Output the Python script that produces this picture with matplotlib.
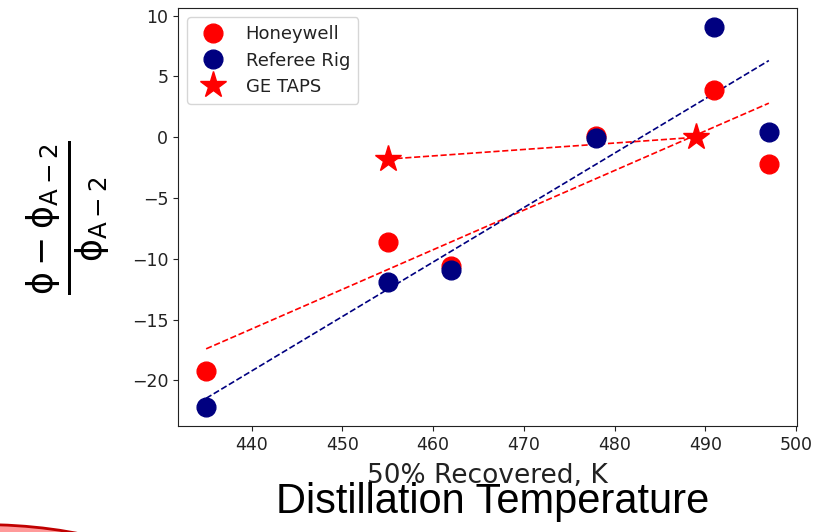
import numpy as np
import matplotlib
matplotlib.use("Agg")
import matplotlib.pyplot as plt
from matplotlib.patches import Ellipse

# Data
temp = [435, 455, 462, 478, 491, 497]
honeywell = [-19.2, -8.6, -10.6, 0.1, 3.85, -2.2]
referee = [-22.2, -11.9, -10.95, -0.05, 9.05, 0.4]
ge_temp = [455, 489]
ge_taps = [-1.8, 0.0]
xticks = [440, 450, 460, 470, 480, 490, 500]
yticks = [-20, -15, -10, -5, 0, 5, 10]

fig = plt.figure(figsize=(8.15, 5.32), dpi=100)
ax = fig.add_axes([178/815, 1-426/532, (797-178)/815, (426-8.3)/532])

ax.plot(temp, honeywell, 'o', color='red', ms=13.5, label='Honeywell', zorder=3)
ax.plot(temp, referee, 'o', color='navy', ms=13.5, label='Referee Rig', zorder=3)
ax.plot(ge_temp, ge_taps, '*', color='red', ms=20, label='GE TAPS', zorder=3)

t = np.array(temp, dtype=float)
ph = np.polyfit(t, honeywell, 1)
pr = np.polyfit(t, referee, 1)
ax.plot(t, np.polyval(ph, t), '--', color='red', lw=1.2, zorder=2)
ax.plot(t, np.polyval(pr, t), '--', color='navy', lw=1.2, zorder=2)
ax.plot(ge_temp, ge_taps, '--', color='red', lw=1.2, zorder=2)

ax.set_xticks(xticks)
ax.set_yticks(yticks)
ax.tick_params(labelsize=12.5, colors='#222222')
for s in ax.spines.values():
    s.set_color('#222222')
ax.set_xlabel('50% Recovered, K', fontsize=19, labelpad=7, color='#222222')
ax.set_ylabel(r'$\mathrm{\frac{\phi - \phi_{A-2}}{\phi_{A-2}}}$', fontsize=36, labelpad=14)
leg = ax.legend(loc='upper left', fontsize=13, borderpad=0.45, handletextpad=0.8,
                labelspacing=0.45)
for txt in leg.get_texts():
    txt.set_color('#222222')

fig.text(493/815, 1-513/532, 'Distillation Temperature', fontsize=30,
         family='Liberation Sans', ha='center', va='baseline')

# decorative slide arc at bottom-left
arc = Ellipse((-20/815, 1-(524.5+60)/532), 2*186/815, 2*60/532,
              transform=fig.transFigure, facecolor='#ff9a9a',
              edgecolor='#c00000', lw=2, clip_on=False)
fig.patches.append(arc)

fig.savefig('out.png', dpi=100)
